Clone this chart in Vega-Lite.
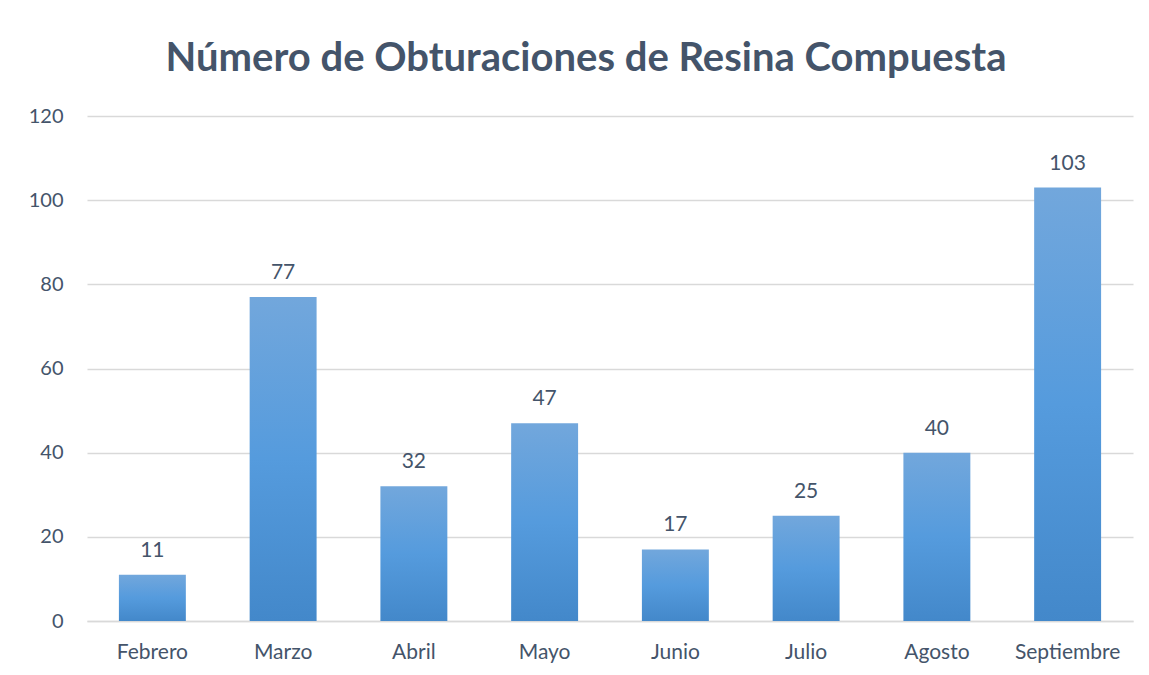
{
  "$schema": "https://vega.github.io/schema/vega-lite/v6.json",
  "width": 1046,
  "height": 505,
  "autosize": {"type": "none"},
  "padding": {"left": 87, "top": 116, "right": 16, "bottom": 54},
  "background": "white",
  "title": {
    "text": "Número de Obturaciones de Resina Compuesta",
    "font": "Lato",
    "fontSize": 40,
    "fontWeight": "bold",
    "color": "#44546A",
    "anchor": "middle",
    "frame": "group",
    "dx": -24,
    "offset": 27
  },
  "data": {
    "values": [
      {"mes": "Febrero", "n": 11},
      {"mes": "Marzo", "n": 77},
      {"mes": "Abril", "n": 32},
      {"mes": "Mayo", "n": 47},
      {"mes": "Junio", "n": 17},
      {"mes": "Julio", "n": 25},
      {"mes": "Agosto", "n": 40},
      {"mes": "Septiembre", "n": 103}
    ]
  },
  "config": {
    "view": {"stroke": null},
    "font": "Lato"
  },
  "encoding": {
    "x": {
      "field": "mes",
      "type": "nominal",
      "sort": null,
      "scale": {"paddingInner": 0.488, "paddingOuter": 0.244},
      "axis": {
        "title": null,
        "labelAngle": 0,
        "labelFont": "Lato",
        "labelFontSize": 21,
        "labelColor": "#44546A",
        "labelPadding": 20,
        "ticks": false,
        "domainColor": "#D9D9D9",
        "domainWidth": 1.5
      }
    },
    "y": {
      "field": "n",
      "type": "quantitative",
      "scale": {"domain": [0, 120]},
      "axis": {
        "title": null,
        "values": [0, 20, 40, 60, 80, 100, 120],
        "labelFont": "Lato",
        "labelFontSize": 20,
        "labelColor": "#44546A",
        "labelPadding": 24,
        "ticks": false,
        "domain": false,
        "gridColor": "#D9D9D9",
        "gridWidth": 1.5
      }
    }
  },
  "layer": [
    {
      "mark": {
        "type": "bar",
        "color": {
          "gradient": "linear",
          "x1": 0, "y1": 0, "x2": 0, "y2": 1,
          "stops": [
            {"offset": 0, "color": "#72A7DC"},
            {"offset": 0.5, "color": "#559BDD"},
            {"offset": 1, "color": "#4388CA"}
          ]
        }
      }
    },
    {
      "mark": {
        "type": "text",
        "baseline": "alphabetic",
        "dy": -18,
        "font": "Lato",
        "fontSize": 21,
        "color": "#44546A"
      },
      "encoding": {"text": {"field": "n", "type": "quantitative"}}
    }
  ]
}
